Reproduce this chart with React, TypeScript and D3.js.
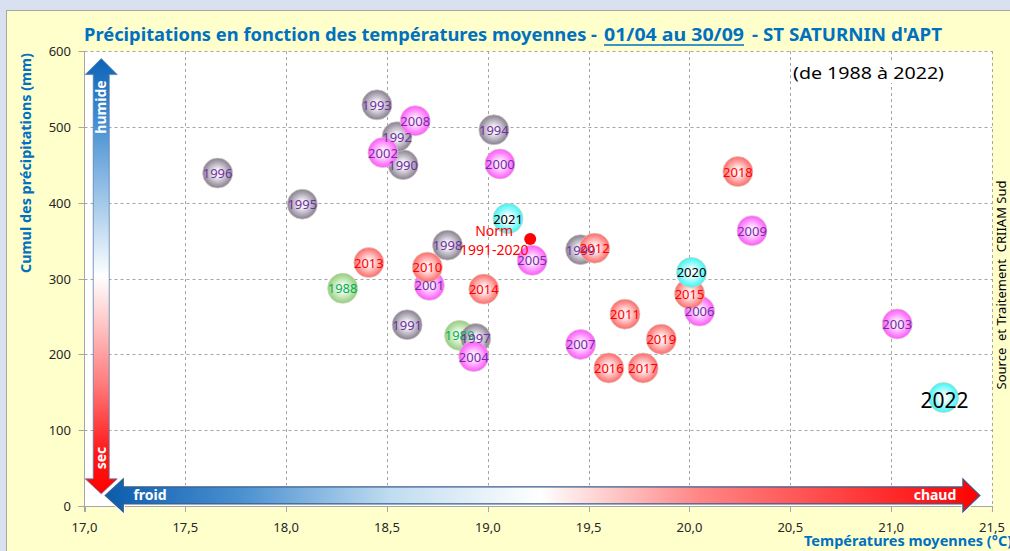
import React from 'react';
import * as d3 from 'd3';

// Precipitation vs mean temperature bubble chart, 01/04 - 30/09, St Saturnin d'Apt.

const years = [
  1988, 1989, 1990, 1991, 1992, 1993, 1994, 1995, 1996, 1997, 1998, 1999,
  2000, 2001, 2002, 2003, 2004, 2005, 2006, 2007, 2008, 2009,
  2010, 2011, 2012, 2013, 2014, 2015, 2016, 2017, 2018, 2019,
  2020, 2021, 2022,
];
const temperatures = [
  18.28, 18.86, 18.58, 18.6, 18.55, 18.45, 19.03, 18.08, 17.66, 18.94, 18.8, 19.46,
  19.06, 18.71, 18.48, 21.03, 18.93, 19.22, 20.05, 19.46, 18.64, 20.31,
  18.7, 19.68, 19.53, 18.41, 18.98, 20.0, 19.6, 19.77, 20.24, 19.86,
  20.01, 19.1, 21.26,
];
const precipitations = [
  287, 225, 450, 239, 487, 529, 496, 398, 439, 221, 344, 338,
  451, 291, 466, 240, 197, 324, 257, 213, 508, 363,
  315, 253, 340, 321, 286, 280, 182, 182, 441, 220,
  308, 379, 143,
];
const normal = { temp: 19.21, precip: 352, label: ['Norm', '1991-2020'] };

const xTicks = [17, 17.5, 18, 18.5, 19, 19.5, 20, 20.5, 21, 21.5];
const yTicks = [0, 100, 200, 300, 400, 500, 600];

const W = 1010;
const H = 551;
const FONT = "'Noto Sans', 'Open Sans', sans-serif";
const BLUE = '#0070C0';

const decadeStyle = (y: number) => {
  if (y < 1990) return { id: 'g', c0: '#F4FBF1', c1: '#8FCF7B', text: '#00B050' };
  if (y < 2000) return { id: 'k', c0: '#F2F0F4', c1: '#867E90', text: '#7030A0' };
  if (y < 2010) return { id: 'm', c0: '#FFE8FF', c1: '#FF55FF', text: '#7030A0' };
  if (y < 2020) return { id: 'r', c0: '#FFECEC', c1: '#FF6868', text: '#FF0000' };
  return { id: 'c', c0: '#EFFFFF', c1: '#3DF5F5', text: '#000000' };
};
const gradients = [1988, 1990, 2000, 2010, 2020].map(decadeStyle);

const frFormat = d3.formatLocale({
  decimal: ',',
  thousands: ' ',
  grouping: [3],
  currency: ['', '€'],
}).format('.1f');

export default function App() {
  const x = d3.scaleLinear().domain([17, 21.5]).range([84.5, 992]);
  const y = d3.scaleLinear().domain([0, 600]).range([506, 51]);
  const [x0, x1] = x.range();
  const [yb, yt] = y.range();

  const points = years.map((yr, i) => ({
    year: yr,
    t: temperatures[i],
    p: precipitations[i],
    s: decadeStyle(yr),
  }));

  // vertical humide/sec arrow, placed in data space
  const vx = x(17.083);
  const vTop = y(590);
  const vBot = y(16);
  const vArrow = [
    [vx, vTop],
    [vx + 16, vTop + 16],
    [vx + 8, vTop + 16],
    [vx + 8, vBot - 15],
    [vx + 16, vBot - 15],
    [vx, vBot],
    [vx - 16, vBot - 15],
    [vx - 8, vBot - 15],
    [vx - 8, vTop + 16],
    [vx - 16, vTop + 16],
  ];

  // horizontal froid/chaud arrow
  const hy = y(14);
  const hL = x(17.103);
  const hR = x(21.44);
  const hArrow = [
    [hL, hy],
    [hL + 18, hy - 16.5],
    [hL + 18, hy - 8.5],
    [hR - 17, hy - 8.5],
    [hR - 17, hy - 16.5],
    [hR, hy],
    [hR - 17, hy + 16.5],
    [hR - 17, hy + 8.5],
    [hL + 18, hy + 8.5],
    [hL + 18, hy + 16.5],
  ];
  const poly = (pts: number[][]) => 'M' + pts.map((p) => p.join(',')).join('L') + 'Z';

  const nx = x(normal.temp);
  const ny = y(normal.precip);

  return (
    <svg
      width={W}
      height={H}
      style={{ position: 'absolute', left: 0, top: 0, display: 'block' }}
      fontFamily={FONT}
    >
      <defs>
        {gradients.map((g) => (
          <radialGradient key={g.id} id={`bub-${g.id}`} cx="50%" cy="50%" r="50%">
            <stop offset="0%" stopColor={g.c0} />
            <stop offset="25%" stopColor={g.c0} />
            <stop offset="100%" stopColor={g.c1} />
          </radialGradient>
        ))}
        <linearGradient id="vgrad" x1="0" y1={vTop} x2="0" y2={vBot} gradientUnits="userSpaceOnUse">
          <stop offset="0" stopColor="#0E63B7" />
          <stop offset="0.13" stopColor="#3D8AD0" />
          <stop offset="0.34" stopColor="#A8CCEB" />
          <stop offset="0.5" stopColor="#FFFFFF" />
          <stop offset="0.56" stopColor="#FFE0E0" />
          <stop offset="0.75" stopColor="#FF7A7A" />
          <stop offset="0.9" stopColor="#FF1A1A" />
          <stop offset="1" stopColor="#FF0000" />
        </linearGradient>
        <linearGradient id="hgrad" x1={hL} y1="0" x2={hR} y2="0" gradientUnits="userSpaceOnUse">
          <stop offset="0" stopColor="#0B5CAD" />
          <stop offset="0.154" stopColor="#4A90D0" />
          <stop offset="0.326" stopColor="#C0DCF0" />
          <stop offset="0.497" stopColor="#FFFFFF" />
          <stop offset="0.68" stopColor="#FF8585" />
          <stop offset="1" stopColor="#FF0000" />
        </linearGradient>
      </defs>

      {/* page + chart frame */}
      <rect width={W} height={H} fill="#D9E1F0" />
      <rect x={6.5} y={10.5} width={W} height={H} fill="#FFFFCC" stroke="#A6A6A6" />

      {/* title */}
      <g fill={BLUE} fontWeight="bold" fontSize={18}>
        <text x={84} y={41} textLength={513} lengthAdjust="spacingAndGlyphs">
          Précipitations en fonction des températures moyennes -
        </text>
        <text x={604} y={41} textLength={140} lengthAdjust="spacingAndGlyphs">
          01/04 au 30/09
        </text>
        <line x1={604} x2={744} y1={45} y2={45} stroke={BLUE} strokeWidth={1.3} />
        <text x={752} y={41} textLength={190} lengthAdjust="spacingAndGlyphs">
          - ST SATURNIN d'APT
        </text>
      </g>

      {/* plot area */}
      <rect x={x0} y={yt} width={x1 - x0} height={yb - yt} fill="#FFFFFF" />
      <g stroke="#A6A6A6" strokeWidth={1} strokeDasharray="3,3">
        {yTicks.filter((v) => v > 0).map((v) => (
          <line key={`gy${v}`} x1={x0} x2={x1} y1={Math.round(y(v)) + 0.5} y2={Math.round(y(v)) + 0.5} />
        ))}
        {xTicks.filter((v) => v > 17).map((v) => (
          <line key={`gx${v}`} x1={Math.round(x(v)) + 0.5} x2={Math.round(x(v)) + 0.5} y1={yt} y2={yb} />
        ))}
      </g>

      {/* axes */}
      <g stroke="#A6A6A6" strokeWidth={1}>
        <line x1={x0} x2={x0} y1={yt} y2={yb + 6} />
        <line x1={x0 - 6} x2={x1} y1={yb + 0.5} y2={yb + 0.5} />
        {yTicks.map((v) => (
          <line key={`ty${v}`} x1={x0 - 6} x2={x0} y1={Math.round(y(v)) + 0.5} y2={Math.round(y(v)) + 0.5} />
        ))}
        {xTicks.map((v) => (
          <line key={`tx${v}`} x1={Math.round(x(v)) + 0.5} x2={Math.round(x(v)) + 0.5} y1={yb} y2={yb + 6} />
        ))}
      </g>
      <g fill="#262626" fontSize={13}>
        {yTicks.map((v) => (
          <text key={`ly${v}`} x={71} y={y(v)} textAnchor="end" dominantBaseline="central">
            {v}
          </text>
        ))}
        {xTicks.map((v) => (
          <text key={`lx${v}`} x={x(v)} y={532} textAnchor="middle">
            {frFormat(v)}
          </text>
        ))}
      </g>

      {/* axis titles */}
      <text
        transform="translate(31,163) rotate(-90)"
        textAnchor="middle"
        fill={BLUE}
        fontWeight="bold"
        fontSize={13.5}
        textLength={220}
        lengthAdjust="spacingAndGlyphs"
      >
        Cumul des précipitations (mm)
      </text>
      <text x={804} y={546} fill={BLUE} fontWeight="bold" fontSize={14.5}>
        Températures moyennes (°C)
      </text>
      <text
        transform="translate(1006,285) rotate(-90)"
        textAnchor="middle"
        fill="#000"
        fontSize={13}
        style={{ whiteSpace: 'pre' }}
      >
        {'Source  et Traitement  CRIIAM Sud'}
      </text>

      {/* period note */}
      <rect x={792} y={60} width={156} height={23} fill="#FFFFFF" />
      <text x={793} y={79} fontSize={17} fill="#000" textLength={151} lengthAdjust="spacingAndGlyphs">
        (de 1988 à 2022)
      </text>

      {/* arrows */}
      <path d={poly(vArrow)} fill="url(#vgrad)" stroke="#5B7FB0" strokeWidth={0.8} />
      <text
        transform={`translate(${vx + 5},107) rotate(-90)`}
        textAnchor="middle"
        fill="#FFFFFF"
        fontWeight="bold"
        fontSize={14}
      >
        humide
      </text>
      <text
        transform={`translate(${vx + 5},458) rotate(-90)`}
        textAnchor="middle"
        fill="#FFFFFF"
        fontWeight="bold"
        fontSize={14}
      >
        sec
      </text>
      <path d={poly(hArrow)} fill="none" stroke="#FFFFFF" strokeWidth={3} />
      <path d={poly(hArrow)} fill="url(#hgrad)" stroke="#385D8A" strokeWidth={1.2} />
      <text x={150} y={hy + 5} textAnchor="middle" fill="#FFFFFF" fontWeight="bold" fontSize={14}>
        froid
      </text>
      <text x={935} y={hy + 5} textAnchor="middle" fill="#FFFFFF" fontWeight="bold" fontSize={14}>
        chaud
      </text>

      {/* bubbles in year order, then every data label on top */}
      {points.map((d) => (
        <circle
          key={`b${d.year}`}
          cx={x(d.t)}
          cy={y(d.p)}
          r={15}
          fill={`url(#bub-${d.s.id})`}
          stroke="rgba(215,205,190,0.7)"
          strokeWidth={1}
        />
      ))}
      {points.map((d) => {
        const big = d.year === 2022;
        return (
          <text
            key={`t${d.year}`}
            x={x(d.t) + (big ? 1 : 0)}
            y={y(d.p) + (big ? 2 : 0)}
            textAnchor="middle"
            dominantBaseline="central"
            fontSize={big ? 21 : 13}
            fill={d.s.text}
          >
            {d.year}
          </text>
        );
      })}

      {/* 1991-2020 normal */}
      <circle cx={nx} cy={ny} r={6} fill="#FF0000" />
      <g fill="#FF0000" fontSize={14} textAnchor="middle">
        <text x={nx - 36} y={ny - 3}>{normal.label[0]}</text>
        <text x={nx - 36} y={ny + 16}>{normal.label[1]}</text>
      </g>
    </svg>
  );
}
